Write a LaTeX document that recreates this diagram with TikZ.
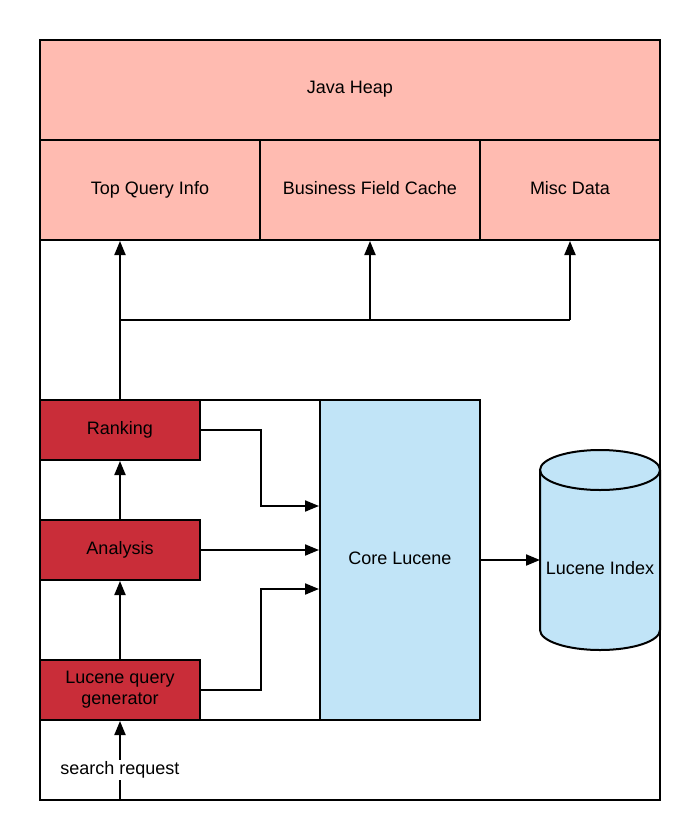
\documentclass[tikz,border=0pt]{standalone}
\usepackage{fontspec}
\setmainfont{Liberation Sans}
\usetikzlibrary{arrows.meta,calc}
\definecolor{heapc}{HTML}{FFBBB1}
\definecolor{redc}{HTML}{C92D39}
\definecolor{bluec}{HTML}{C1E4F7}
\begin{document}
\begin{tikzpicture}[x=1pt,y=-1pt,
  every node/.style={font=\fontsize{18}{21}\selectfont, text=black},
  line/.style={line width=2pt, draw=black},
  cell/.style={line, fill=heapc, minimum height=100pt, inner sep=0pt},
  redbox/.style={line, fill=redc, minimum width=160pt, minimum height=60pt, inner sep=0pt, align=center},
  arr/.style={line, -{Triangle[length=14pt,width=11pt]}},
  lbl/.style={anchor=base, inner sep=0pt},
]
\useasboundingbox (0,0) rectangle (700,840);
% outer frame
\draw[line] (40,40) rectangle (660,800);
% heap
\node[cell, minimum width=620pt] (heap) at (350,90) {};
\node[lbl] (heapt) at (350,94) {Java Heap};
\node[cell, minimum width=220pt] (tq) at (150,190) {};
\node[cell, minimum width=220pt] (bfc) at (370,190) {};
\node[cell, minimum width=180pt] (misc) at (570,190) {};
\node[lbl] (tqt) at ($(tq)+(0,4)$) {Top Query Info};
\node[lbl] (bfct) at ($(bfc)+(0,4)$) {Business Field Cache};
\node[lbl] (misct) at ($(misc)+(0,4)$) {Misc Data};
% inner box
\draw[line] (40,400) rectangle (480,720);
\node[line, fill=bluec, minimum width=160pt, minimum height=320pt, inner sep=0pt] (core) at (400,560) {};
\node[lbl] (coret) at ($(core)+(0,4)$) {Core Lucene};
\node[redbox] (rank) at (120,430) {Ranking};
\node[redbox] (anal) at (120,550) {Analysis};
\node[redbox] (lqg) at (120,690) {Lucene query\\generator};
% cylinder
\fill[bluec] (540,470) -- (540,630) arc[start angle=180, end angle=360, x radius=60pt, y radius=20pt] -- (660,470) -- cycle;
\fill[bluec] (600,470) ellipse[x radius=60pt, y radius=20pt];
\draw[line] (540,470) -- (540,630) arc[start angle=180, end angle=360, x radius=60pt, y radius=20pt] -- (660,470);
\draw[line] (600,470) ellipse[x radius=60pt, y radius=20pt];
\node[lbl] (idx) at (600,574) {Lucene Index};
\coordinate (idxw) at (540,560);
% connectors
\coordinate (br) at (120,320);
\draw[arr] (rank.north) -- (rank.north |- tq.south);
\draw[line] (br) -- (br -| misc.south);
\draw[arr] (br -| misc.south) -- (misc.south);
\draw[arr] (br -| bfc.south) -- (bfc.south);
\draw[arr] (anal.north) -- (rank.south);
\draw[arr] (lqg.north) -- (anal.south);
\draw[arr] (rank.east) -- ++(60,0) |- ([yshift=54pt]core.west);
\draw[arr] (anal.east) -- (anal.east -| core.west);
\draw[arr] (lqg.east) -- ++(60,0) |- ([yshift=-29pt]core.west);
\draw[arr] (core.east) -- (idxw);
\coordinate (sr) at (120,800);
\draw[arr] (sr) -- (lqg.south);
\node[fill=white, inner sep=2pt] (srl) at (120,770) {search request};
\end{tikzpicture}
\end{document}
